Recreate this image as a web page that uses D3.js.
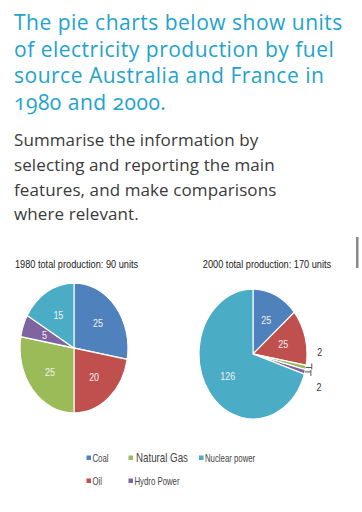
<!DOCTYPE html>
<html>
<head>
<meta charset="utf-8">
<script src="https://cdn.jsdelivr.net/npm/d3@7"></script>
<style>
  body { margin: 0; background: #fff; }
  svg { display: block; }
</style>
</head>
<body>
<div id="chart"></div>
<script>
// data
const fuels = ["Coal", "Oil", "Natural Gas", "Hydro Power", "Nuclear power"];
const values1980 = [25, 20, 25, 5, 15];
const values2000 = [25, 25, 2, 2, 126];
const pieTitles = ["1980 total production: 90 units", "2000 total production: 170 units"];
const headingLines = ["The pie charts below show units", "of electricity production by fuel",
  "source Australia and France in", "1980 and 2000."];
const taskLines = ["Summarise the information by", "selecting and reporting the main",
  "features, and make comparisons", "where relevant."];
const legendRows = [["Coal", "Natural Gas", "Nuclear power"], ["Oil", "Hydro Power"]];

const width = 362, height = 512;
const color = d3.scaleOrdinal()
  .domain(fuels)
  .range(["#4f81bd", "#c0504d", "#9bbb59", "#8064a2", "#4bacc6"]);

const svg = d3.select("#chart").append("svg")
  .attr("width", width)
  .attr("height", height);

// heading
svg.append("g")
  .selectAll("text")
  .data(headingLines)
  .join("text")
  .attr("x", 14)
  .attr("y", (d, i) => 30 + i * 26.5)
  .attr("fill", "#21a3cb")
  .style("font", "21px 'Open Sans', sans-serif")
  .style("letter-spacing", "0.5px")
  .style("font-variant-numeric", "oldstyle-nums")
  .text(d => d);

svg.append("g")
  .selectAll("text")
  .data(taskLines)
  .join("text")
  .attr("x", 14)
  .attr("y", (d, i) => 146 + i * 24.8)
  .attr("fill", "#3a3a3a")
  .style("font", "17px 'Open Sans', sans-serif")
  .style("letter-spacing", "0.1px")
  .text(d => d);

// little scroll mark at the right edge
svg.append("rect")
  .attr("x", 356).attr("y", 237)
  .attr("width", 2.5).attr("height", 31)
  .attr("fill", "#888");

// no narrow font installed, so squeeze the chart texts sideways
const font = "'Liberation Sans', Arial, sans-serif";
const squeeze = 0.8;
const place = (x, y, k = squeeze) => `translate(${x},${y}) scale(${k},1)`;

const R = 65, sx = 0.83;   // the pies are drawn squeezed sideways too

const pie = d3.pie().sort(null).value(d => d.value);
const arc = d3.arc().innerRadius(0).outerRadius(R);
const labelArc = d3.arc().innerRadius(R * 0.58).outerRadius(R * 0.58);

function drawPie(values, cx, cy, title, titleX) {
  const data = fuels.map((f, i) => ({fuel: f, value: values[i]}));
  const arcs = pie(data);

  svg.append("text")
    .attr("transform", place(titleX, 268))
    .attr("text-anchor", "middle")
    .attr("fill", "#222")
    .style("font", `11.5px ${font}`)
    .text(title);

  svg.append("g")
    .attr("transform", `translate(${cx},${cy}) scale(${sx},1)`)
    .selectAll("path")
    .data(arcs)
    .join("path")
    .attr("d", arc)
    .attr("fill", d => color(d.data.fuel))
    .attr("stroke", "#fff")
    .attr("stroke-width", 1.3);

  const g = svg.append("g").attr("transform", `translate(${cx},${cy})`);
  const big = arcs.filter(d => d.value > 4);
  const small = arcs.filter(d => d.value <= 4);

  g.selectAll("text.in")
    .data(big)
    .join("text")
    .attr("class", "in")
    .attr("transform", d => place(labelArc.centroid(d)[0] * sx, labelArc.centroid(d)[1], 0.85))
    .attr("dy", "0.35em")
    .attr("text-anchor", "middle")
    .attr("fill", "#f2f2f2")
    .style("font", `10.5px ${font}`)
    .text(d => d.value);

  // leader lines for the thin slices
  small.forEach((d, i) => {
    const a = (d.startAngle + d.endAngle) / 2;
    const px = Math.sin(a) * R * sx, py = -Math.cos(a) * R;
    const ex = px + 6, dir = i === 0 ? -1 : 1;
    g.append("path")
      .attr("d", `M${px},${py}H${ex}V${py + dir * 4}M${ex},${py - dir * 2}V${py}`)
      .attr("fill", "none")
      .attr("stroke", "#555")
      .attr("stroke-width", 1);
    g.append("text")
      .attr("transform", place(ex + 8, py + dir * 15, 0.85))
      .attr("dy", "0.35em")
      .attr("text-anchor", "middle")
      .attr("fill", "#333")
      .style("font", `10.5px ${font}`)
      .text(d.value);
  });
}

drawPie(values1980, 74, 348, pieTitles[0], 76.5);
drawPie(values2000, 253, 354, pieTitles[1], 267);

// legend
const legend = svg.append("g");
const colX = [88.5, 130.5, 201];
legendRows.forEach((row, r) => {
  row.forEach((name, c) => {
    const y = 458 + r * 23;
    legend.append("rect")
      .attr("x", colX[c] - 2).attr("y", y - 2.5)
      .attr("width", 4.5).attr("height", 4.5)
      .attr("fill", color(name));
    legend.append("text")
      .attr("transform", place(colX[c] + (name === "Natural Gas" ? 5.5 : 4), y, 0.78))
      .attr("dy", "0.35em")
      .attr("fill", "#444")
      .style("font", `${name === "Natural Gas" ? 12.5 : 10}px ${font}`)
      .text(name);
  });
});
</script>
</body>
</html>
